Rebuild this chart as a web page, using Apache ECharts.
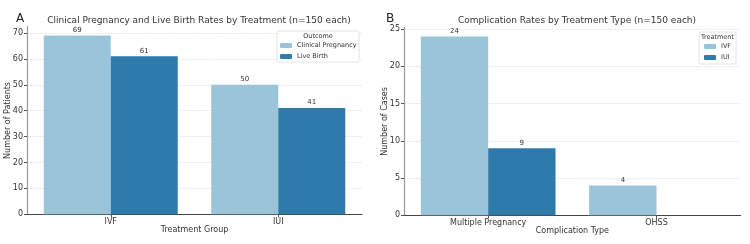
<!DOCTYPE html>
<html>
<head>
<meta charset="utf-8">
<script src="https://cdn.jsdelivr.net/npm/echarts@6/dist/echarts.min.js"></script>
<style>
  html, body { margin: 0; padding: 0; background: #fff; }
  #chart { width: 750px; height: 244px; }
</style>
</head>
<body>
<div id="chart"></div>
<script>
// panel A data
var groupsA = ['IVF', 'IUI'];
var clinicalPregnancy = [69, 50];
var liveBirth = [61, 41];

// panel B data
var complications = ['Multiple Pregnancy', 'OHSS'];
var ivfCases = [24, 4];
var iuiCases = [9, 0];

var light = '#9ac4da';
var dark = '#2e7aaa';
var font = 'DejaVu Sans';

var chart = echarts.init(document.getElementById('chart'));

function yAxis(idx, max, step, name) {
    return {
        type: 'value', gridIndex: idx, min: 0, max: max, interval: step,
        name: name, nameLocation: 'middle', nameGap: 15, nameMoveOverlap: false,
        nameTextStyle: { fontFamily: font, fontSize: 8, color: '#333' },
        axisLine: { show: true, lineStyle: { color: '#999', width: 1.2 } },
        axisTick: { show: true, length: 3, lineStyle: { color: '#555' } },
        axisLabel: { fontFamily: font, fontSize: 8, color: '#333', margin: 4, showMaxLabel: false },
        splitLine: { show: true, showMaxLine: false, lineStyle: { color: '#e2e2e2', type: [2, 1], width: 0.8 } }
    };
}

function xAxis(idx, cats, name) {
    return {
        type: 'category', gridIndex: idx, data: cats,
        name: name, nameLocation: 'middle', nameGap: 12, nameMoveOverlap: false,
        nameTextStyle: { fontFamily: font, fontSize: 8, color: '#333' },
        axisLine: { show: true, lineStyle: { color: '#444', width: 1 } },
        axisTick: { show: true, alignWithLabel: true, length: 3, lineStyle: { color: '#555' } },
        axisLabel: { fontFamily: font, fontSize: 8, color: '#333', margin: 4 }
    };
}

function bars(name, data, idx, color) {
    return {
        name: name, type: 'bar', data: data,
        xAxisIndex: idx, yAxisIndex: idx,
        barWidth: '40%', barGap: '0%',
        itemStyle: { color: color },
        label: {
            show: true, position: 'top', distance: 2,
            fontFamily: font, fontSize: 7, color: '#333',
            formatter: function (p) { return p.value ? p.value : ''; }
        }
    };
}

// legend frame + title drawn as graphics, legend items placed inside
function legendBox(x, y, w, h, title) {
    return [
        { type: 'rect', z: 50, shape: { x: x, y: y, width: w, height: h, r: 2 },
          style: { fill: '#fff', stroke: '#ddd', lineWidth: 0.8 } },
        { type: 'text', z: 60, x: x + w / 2, y: y + 2,
          style: { text: title, fontFamily: font, fontSize: 6.5, fill: '#333', align: 'center', verticalAlign: 'top' } }
    ];
}

function legend(names, x, y) {
    return {
        data: names, orient: 'vertical', left: x, top: y, z: 70,
        padding: 0, itemGap: 4, itemWidth: 12, itemHeight: 5,
        textStyle: { fontFamily: font, fontSize: 6.5, color: '#333' }
    };
}

var option = {
    animation: false,
    title: [
        { text: 'Clinical Pregnancy and Live Birth Rates by Treatment (n=150 each)', left: 194, top: 11, textAlign: 'center',
          textStyle: { fontFamily: font, fontSize: 9, fontWeight: 'normal', color: '#333' } },
        { text: 'Complication Rates by Treatment Type (n=150 each)', left: 572, top: 11, textAlign: 'center',
          textStyle: { fontFamily: font, fontSize: 9, fontWeight: 'normal', color: '#333' } },
        { text: 'A', left: 11, top: 8, textStyle: { fontFamily: font, fontSize: 12, fontWeight: 'normal', color: '#222' } },
        { text: 'B', left: 381, top: 8, textStyle: { fontFamily: font, fontSize: 12, fontWeight: 'normal', color: '#222' } }
    ],
    grid: [
        { left: 27, right: 388, top: 26.6, bottom: 29.7 },
        { left: 404, right: 9.3, top: 27.6, bottom: 28.7 }
    ],
    legend: [
        legend(['Clinical Pregnancy', 'Live Birth'], 280, 42),
        legend(['IVF', 'IUI'], 704, 43)
    ],
    graphic: legendBox(277, 31, 82, 31, 'Outcome').concat(legendBox(699, 32, 37, 32, 'Treatment')),
    xAxis: [
        xAxis(0, groupsA, 'Treatment Group'),
        xAxis(1, complications, 'Complication Type')
    ],
    yAxis: [
        yAxis(0, 72.45, 10, 'Number of Patients'),
        yAxis(1, 25.2, 5, 'Number of Cases')
    ],
    series: [
        bars('Clinical Pregnancy', clinicalPregnancy, 0, light),
        bars('Live Birth', liveBirth, 0, dark),
        bars('IVF', ivfCases, 1, light),
        bars('IUI', iuiCases, 1, dark)
    ]
};

chart.setOption(option);
</script>
</body>
</html>
